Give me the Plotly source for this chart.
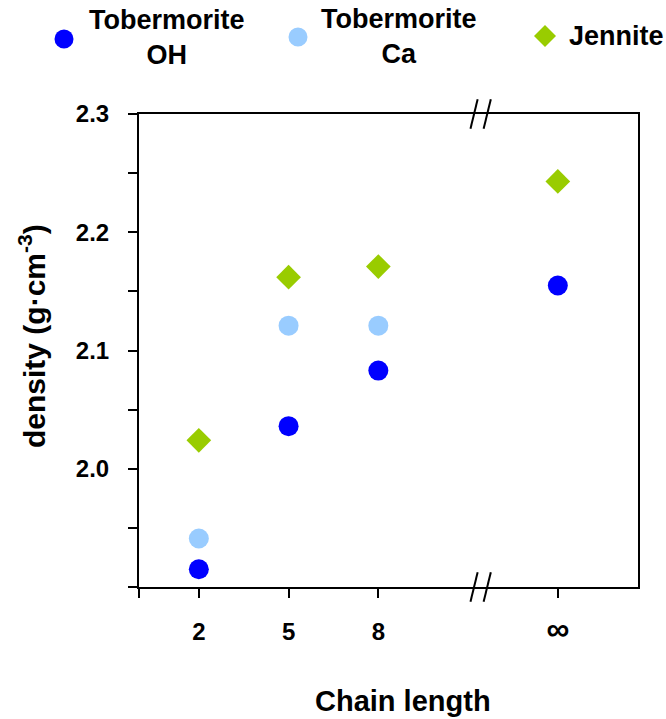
import plotly.graph_objects as go

# Chain length positions (infinite chain placed after the axis break)
x_tick_vals = [2, 5, 8, 14]
x_tick_text = ["2", "5", "8", "<span style='font-size:32px'>∞</span>"]
x_minor_ticks = [0]
x_break = 11.42

# Density values, g·cm^-3
tob_oh_x = [2, 5, 8, 14]
tob_oh_y = [1.915, 2.036, 2.083, 2.155]
tob_ca_x = [2, 5, 8]
tob_ca_y = [1.941, 2.121, 2.121]
jennite_x = [2, 5, 8, 14]
jennite_y = [2.024, 2.162, 2.171, 2.243]

y_tick_vals = [2.0, 2.1, 2.2, 2.3]
y_tick_text = ["2.0", "2.1", "2.2", "2.3"]
y_minor_ticks = [1.9, 1.95, 2.05, 2.15, 2.25]

series_names = ["Tobermorite<br>OH", "Tobermorite<br>Ca", "Jennite"]
series_colors = ["#0000FF", "#99CCFF", "#99CC00"]
series_symbols = ["circle", "circle", "diamond"]

FONT = "Liberation Sans, Arial, sans-serif"
W, H = 666, 719
L, R, T, B = 139, 638, 114, 587


def px(xp):
    return (xp - L) / (R - L)


def py(yp):
    return (B - yp) / (B - T)


fig = go.Figure()
for xs, ys, name, col, sym in zip(
    [tob_oh_x, tob_ca_x, jennite_x],
    [tob_oh_y, tob_ca_y, jennite_y],
    series_names, series_colors, series_symbols,
):
    fig.add_trace(go.Scatter(
        x=xs, y=ys, mode="markers", name=name, showlegend=False,
        marker=dict(color=col, symbol=sym, size=20 if sym == "circle" else 19,
                    line=dict(width=0)),
    ))

shapes = []
# axis break marks on bottom and top axes
for yc in (0.0, 1.0):
    for off in (-0.22, 0.22):
        shapes.append(dict(
            type="line", xref="x", yref="paper",
            x0=x_break + off - 0.12, x1=x_break + off + 0.12,
            y0=yc - 0.031, y1=yc + 0.031,
            line=dict(color="black", width=2),
        ))

# legend symbols and labels
legend_sym_pos = [(64, 39), (298, 37), (545, 36)]
legend_text_pos = [(167, 38), (399, 37), (616, 36)]
annotations = []
for (sx, sy), (tx, ty), name, col, sym in zip(
    legend_sym_pos, legend_text_pos, series_names, series_colors, series_symbols
):
    if sym == "circle":
        shapes.append(dict(
            type="circle", xref="paper", yref="paper",
            xsizemode="pixel", ysizemode="pixel",
            xanchor=px(sx), yanchor=py(sy),
            x0=-9.5, x1=9.5, y0=-9.5, y1=9.5,
            fillcolor=col, line=dict(width=0),
        ))
    else:
        shapes.append(dict(
            type="path", xref="paper", yref="paper",
            xsizemode="pixel", ysizemode="pixel",
            xanchor=px(sx), yanchor=py(sy),
            path="M 0 11 L 11 0 L 0 -11 L -11 0 Z",
            fillcolor=col, line=dict(width=0),
        ))
    annotations.append(dict(
        text=f"<b>{name}</b>", xref="paper", yref="paper",
        x=px(tx), y=py(ty), xanchor="center", yanchor="middle",
        align="center", showarrow=False,
        font=dict(family=FONT, size=27, color="black"),
    ))

# axis titles
annotations.append(dict(
    text="<b>Chain length</b>", xref="paper", yref="paper",
    x=px(403), y=py(701), xanchor="center", yanchor="middle",
    showarrow=False, font=dict(family=FONT, size=29, color="black"),
))
annotations.append(dict(
    text="<b>density (g·cm<sup>-3</sup>)</b>", xref="paper", yref="paper",
    x=px(32), y=py(336), xanchor="center", yanchor="middle", textangle=-90,
    showarrow=False, font=dict(family=FONT, size=30, color="black"),
))

fig.update_layout(
    width=W, height=H,
    margin=dict(l=L, r=W - R, t=T, b=H - B),
    plot_bgcolor="white", paper_bgcolor="white",
    showlegend=False,
    shapes=shapes, annotations=annotations,
    font=dict(family=FONT, color="black"),
)
fig.update_xaxes(
    range=[0, 16.68], tickvals=x_tick_vals, ticktext=x_tick_text,
    showgrid=False, zeroline=False,
    showline=True, linecolor="black", linewidth=2, mirror=True,
    ticks="outside", ticklen=9, tickwidth=2, tickcolor="black",
    minor=dict(tickvals=x_minor_ticks, ticks="outside", ticklen=9,
               tickwidth=2, tickcolor="black", showgrid=False),
    ticklabelstandoff=13,
    tickfont=dict(family=FONT, size=24, color="black", weight="bold"),
)
fig.update_yaxes(
    range=[1.9, 2.3], tickvals=y_tick_vals, ticktext=y_tick_text,
    showgrid=False, zeroline=False,
    showline=True, linecolor="black", linewidth=2, mirror=True,
    ticks="outside", ticklen=9, tickwidth=2, tickcolor="black",
    minor=dict(tickvals=y_minor_ticks, ticks="outside", ticklen=9,
               tickwidth=2, tickcolor="black", showgrid=False),
    ticklabelstandoff=14,
    tickfont=dict(family=FONT, size=24, color="black", weight="bold"),
)

fig.write_html("out.html")
